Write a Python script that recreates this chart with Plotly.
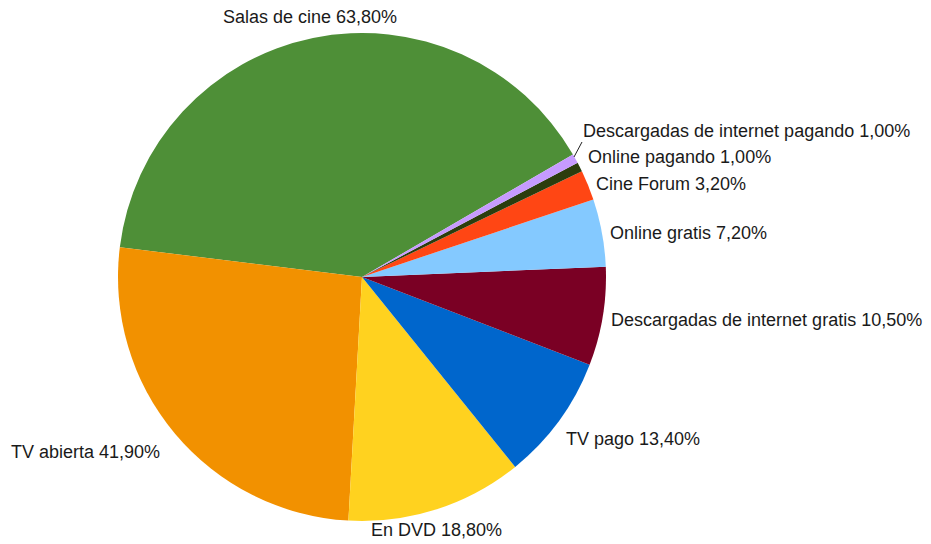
import plotly.graph_objects as go

labels = ["Salas de cine", "TV abierta", "En DVD", "TV pago",
          "Descargadas de internet gratis", "Online gratis", "Cine Forum",
          "Online pagando", "Descargadas de internet pagando"]
values = [63.8, 41.9, 18.8, 13.4, 10.5, 7.2, 3.2, 1.0, 1.0]
colors = ["#4E8F37", "#F29100", "#FFD21F", "#0066CC", "#7A0024",
          "#84C9FF", "#FF4614", "#2B3D0E", "#C69BFF"]

# page body has an 8px margin; figure drawn in page coordinates minus offset
OFF = 8
W, H = 931 - OFF, 544 - OFF
cx, cy, r = 362 - OFF, 277 - OFF, 244

fig = go.Figure(go.Pie(
    labels=labels, values=values, sort=False,
    direction="counterclockwise", rotation=-83,
    marker=dict(colors=colors, line=dict(width=0)),
    textinfo="none", hoverinfo="label+value",
    domain=dict(x=[(cx - r) / W, (cx + r) / W],
                y=[(H - cy - r) / H, (H - cy + r) / H]),
    showlegend=False,
))

# label anchor positions in page pixels (x, middle y, anchor)
label_pos = [(310, 17, "center"), (9, 452, "left"), (369, 530, "left"),
             (564, 439, "left"), (609, 320, "left"), (608, 233, "left"),
             (594, 184, "left"), (586, 157, "left"), (581, 131, "left")]

def fmt(v):
    return f"{v:.2f}".replace(".", ",") + "%"

for lab, val, (px, py, anc) in zip(labels, values, label_pos):
    fig.add_annotation(x=(px - OFF) / W, y=1 - (py - OFF) / H,
                       xref="paper", yref="paper",
                       text=f"{lab} {fmt(val)}", showarrow=False,
                       xanchor=anc, yanchor="middle",
                       font=dict(family="Liberation Sans Narrow, Liberation Sans",
                                 size=18, color="#1a1a1a"))

fig.add_shape(type="line", xref="paper", yref="paper",
              x0=(574 - OFF) / W, y0=1 - (157 - OFF) / H,
              x1=(582 - OFF) / W, y1=1 - (142 - OFF) / H,
              line=dict(color="#222222", width=1))

fig.update_layout(width=W, height=H, margin=dict(l=0, r=0, t=0, b=0),
                  paper_bgcolor="white", plot_bgcolor="white")
fig.write_html("out.html")
